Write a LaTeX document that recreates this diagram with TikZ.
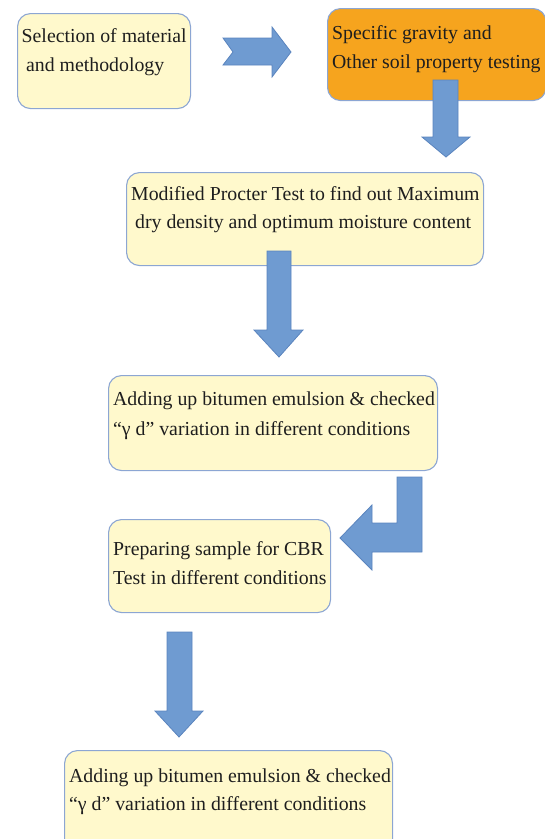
\documentclass[tikz,border=0pt]{standalone}
\usepackage{fontspec}
\setmainfont{Liberation Serif}
\definecolor{boxfill}{HTML}{FFF9CC}
\definecolor{boxline}{HTML}{8CA6D3}
\definecolor{orangefill}{HTML}{F6A41E}
\definecolor{arrowfill}{HTML}{6F9BD1}
\definecolor{arrowline}{HTML}{5A84BE}
\definecolor{txt}{HTML}{1E1E1E}
\begin{document}
\begin{tikzpicture}[x=1pt,y=-1pt,
  box/.style={draw=boxline, line width=1.1pt, fill=boxfill, rounded corners=13pt,
    anchor=north west, inner sep=0pt},
  orangebox/.style={box, fill=orangefill},
  txtline/.style={anchor=base west, inner sep=0pt, text=txt,
    font=\fontsize{19.8}{24}\selectfont},
  blockarrow/.style={fill=arrowfill, draw=arrowline, line width=0.8pt, line join=miter}]
\useasboundingbox (0,0) rectangle (545,839);
\clip (0,0) rectangle (545,839);
% boxes
\node[box, minimum width=173pt, minimum height=95pt] (b1) at (17,13) {};
\node[orangebox, minimum width=218.5pt, minimum height=92pt] (b2) at (327,8) {};
\node[box, minimum width=357pt, minimum height=93pt] (b3) at (126,172) {};
\node[box, minimum width=329pt, minimum height=95pt] (b4) at (108,375) {};
\node[box, minimum width=222pt, minimum height=93pt] (b5) at (108,519) {};
\node[box, minimum width=328pt, minimum height=110pt] (b6) at (64,750) {};
% texts
\node[txtline] (t1a) at (21.5,42) {Selection of material};
\node[txtline] (t1b) at (26,71) {and methodology};
\node[txtline] (t2a) at (332,39) {Specific gravity and};
\node[txtline] (t2b) at (332,68) {Other soil property testing};
\node[txtline] (t3a) at (131,200) {Modified Procter Test to find out Maximum};
\node[txtline] (t3b) at (135,228) {dry density and optimum moisture content};
\node[txtline] (t4a) at (113,405) {Adding up bitumen emulsion \& checked};
\node[txtline] (t4b) at (113,435) {“γ d" variation in different conditions};
\node[txtline] (t5a) at (113,555) {Preparing sample for CBR};
\node[txtline] (t5b) at (113,584) {Test in different conditions};
\node[txtline] (t6a) at (69,782) {Adding up bitumen emulsion \& checked};
\node[txtline] (t6b) at (69,810) {“γ d" variation in different conditions};
% block arrows
\draw[blockarrow] (223,38) -- (272,38) -- (272,27) -- (291,52) -- (272,77) -- (272,65)
  -- (223,65) -- (233,52) -- cycle;
\draw[blockarrow] (433,80) -- (458,80) -- (458,137) -- (470,137) -- (446,157)
  -- (422,137) -- (433,137) -- cycle;
\draw[blockarrow] (267,251) -- (291,251) -- (291,330) -- (303,330) -- (279,357)
  -- (254,330) -- (267,330) -- cycle;
\draw[blockarrow] (397,477) -- (422,477) -- (422,552) -- (372,552) -- (372,570)
  -- (340,538) -- (372,505) -- (372,523) -- (397,523) -- cycle;
\draw[blockarrow] (167,632) -- (192,632) -- (192,711) -- (203,711) -- (179,737)
  -- (155,711) -- (167,711) -- cycle;
\end{tikzpicture}
\end{document}
